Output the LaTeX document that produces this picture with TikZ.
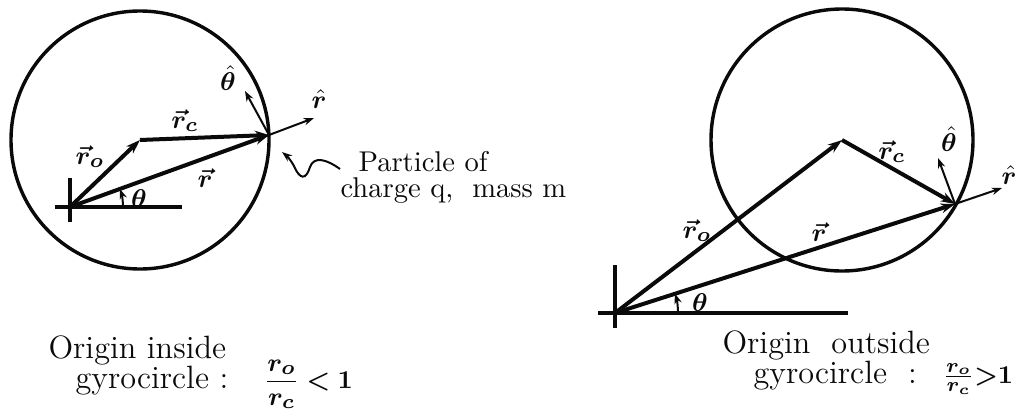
\documentclass[tikz,border=0pt]{standalone}
\usepackage{fontspec}
\usepackage{amsmath,bm}
\usetikzlibrary{arrows.meta,calc}
\definecolor{ink}{HTML}{0A0A0A}
\tikzset{
  vecar/.style={-{Stealth[length=5pt,width=3.4pt]},draw=ink,line width=1.4pt},
  unitar/.style={-{Stealth[length=3.6pt,width=2.6pt]},draw=ink,line width=.7pt},
  axis/.style={draw=ink,line width=1.4pt},
  gyro/.style={draw=ink,line width=1.2pt},
  lab/.style={font=\fontsize{9.5}{10}\selectfont,text=ink,inner sep=0pt},
  txt/.style={font=\fontsize{10}{12}\selectfont\addfontfeature{LetterSpace=15},text=ink,inner sep=0pt,anchor=base west},
  txtb/.style={txt,font=\fontsize{11.3}{12}\selectfont\addfontfeature{LetterSpace=10}},
}

\begin{document}
\begin{tikzpicture}[x=0.35pt,y=-0.35pt]
  \useasboundingbox (0,0) rectangle (1021,415);
  % origin inside the gyrocircle
  \coordinate (O1) at (70,207);
  \coordinate (C1) at (140,140);
  \coordinate (P1) at (269,135);
  \coordinate (T1) at (245,91);
  \coordinate (R1) at (314,118);
  \draw[gyro] (C1) circle[radius=129];
  \draw[axis] ($(O1)+(0,-29)$) -- ($(O1)+(0,15)$);
  \draw[axis] ($(O1)+(-15,0)$) -- ($(O1)+(112,0)$);
  \draw[vecar] (O1) -- (C1);
  \draw[vecar] (C1) -- (P1);
  \draw[vecar] (O1) -- (P1);
  \draw[unitar] (P1) -- (T1);
  \draw[unitar] (P1) -- (R1);
  \draw[unitar] ($(O1)+(53,0)$) arc[start angle=0,end angle=-20,radius=53];
  \node[lab] (r0a) at (90,157) {$\bm{\vec{r}_{o}}$};
  \node[lab] (rca) at (185,121) {$\bm{\vec{r}_{c}}$};
  \node[lab] (ra) at (205,178) {$\bm{\vec{r}}$};
  \node[lab] (tha) at (228,78) {$\bm{\hat\theta}$};
  \node[lab] (rha) at (319,99) {$\bm{\hat r}$};
  \node[lab] (anga) at (139,199) {$\bm{\theta}$};
  % particle pointer
  \coordinate (W1) at (340,169);
  \coordinate (W2) at (282,152);
  \draw[unitar] (W1) .. controls (326,159) and (314,156) .. (310,167) .. controls (306,180) and (300,180) .. (294,166) .. controls (290,159) and (287,156) .. (W2);
  \node[txt] (pa) at (358,171) {Particle of};
  \node[txt] (pb) at (340,197) {charge q,\ \ mass m};
  \node[txtb] (oa) at (48,358) {Origin inside};
  \node[txtb] (ob) at (75,388) {gyrocircle\ :\hspace{1.1em}{\fontsize{9.5}{10}\selectfont$\bm{\dfrac{r_o}{r_c}<1}$}};
  % origin outside the gyrocircle
  \coordinate (O2) at (615,313);
  \coordinate (C2) at (842,140);
  \coordinate (P2) at (955,204);
  \coordinate (T2) at (938,158);
  \coordinate (R2) at (1002,188);
  \draw[gyro] (C2) circle[radius=131];
  \draw[axis] ($(O2)+(0,-48)$) -- ($(O2)+(0,15)$);
  \draw[axis] ($(O2)+(-17,0)$) -- ($(O2)+(233,0)$);
  \draw[vecar] (O2) -- (C2);
  \draw[vecar] (C2) -- (P2);
  \draw[vecar] (O2) -- (P2);
  \draw[unitar] (P2) -- (T2);
  \draw[unitar] (P2) -- (R2);
  \draw[unitar] ($(O2)+(63,0)$) arc[start angle=0,end angle=-18,radius=63];
  \node[lab] (r0b) at (697,231) {$\bm{\vec{r}_{o}}$};
  \node[lab] (rcb) at (892,152) {$\bm{\vec{r}_{c}}$};
  \node[lab] (rb) at (819,232) {$\bm{\vec{r}}$};
  \node[lab] (thb) at (949,139) {$\bm{\hat\theta}$};
  \node[lab] (rhb) at (1009,175) {$\bm{\hat r}$};
  \node[lab] (angb) at (700,303) {$\bm{\theta}$};
  \node[txtb] (oc) at (722,353) {Origin\ \ outside};
  \node[txtb] (od) at (753,383) {gyrocircle\ \ :\hspace{0.8em}{\fontsize{9.5}{10}\selectfont$\bm{\tfrac{r_o}{r_c}{>}1}$}};
\end{tikzpicture}
\end{document}
